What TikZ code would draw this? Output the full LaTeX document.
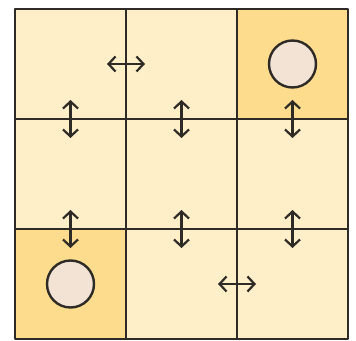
\documentclass[tikz,border=0pt]{standalone}
\usepackage{tikz}
\usetikzlibrary{arrows.meta}
\usetikzlibrary{positioning}
\definecolor{pale}{HTML}{FFEFC9}
\definecolor{warm}{HTML}{FDDC8E}
\definecolor{stone}{HTML}{F3E3D5}
\definecolor{ink}{HTML}{2E2A26}
\tikzset{
	cell/.style={draw=ink, line width=2.2pt, minimum width=111pt, minimum height=110pt, outer sep=0pt, inner sep=0pt},
	token/.style={circle, draw=ink, fill=stone, line width=2.4pt, minimum size=47pt, inner sep=0pt},
	swap/.style={draw=ink, line width=2.2pt, {Straight Barb[length=7pt,width=15pt]}-{Straight Barb[length=7pt,width=15pt]}}
}
\begin{document}
\begin{tikzpicture}[x=1pt, y=1pt, line cap=round, line join=round]
		\useasboundingbox (0,0) rectangle (356,340);
		% grid of cells
		\foreach \r/\c/\col in {1/1/pale,1/2/pale,1/3/warm,2/1/pale,2/2/pale,2/3/pale,3/1/warm,3/2/pale,3/3/pale}
			\node[cell, fill=\col] (c-\r-\c) at ({15+111*(\c-0.5)}, {331-110*(\r-0.5)}) {};
		% tokens
		\node[token] (t-a) at (c-1-3) {};
		\node[token] (t-b) at (c-3-1) {};
		% moves across the walls
		\draw[swap] ([xshift=-19pt]c-1-1.east) -- ([xshift=19pt]c-1-2.west);
		\draw[swap] ([xshift=-19pt]c-3-2.east) -- ([xshift=19pt]c-3-3.west);
		\foreach \c in {1,2,3} {
			\draw[swap] ([yshift=19pt]c-1-\c.south) -- ([yshift=-19pt]c-2-\c.north);
			\draw[swap] ([yshift=19pt]c-2-\c.south) -- ([yshift=-19pt]c-3-\c.north);
		}
	\end{tikzpicture}
\end{document}
